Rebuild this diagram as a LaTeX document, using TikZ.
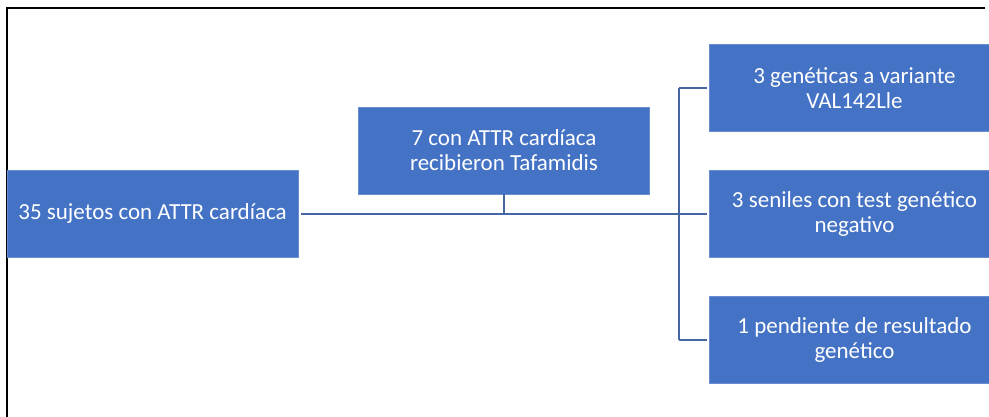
\documentclass[tikz,border=0pt]{standalone}
\usepackage{fontspec}
\setmainfont{Carlito}
\definecolor{boxblue}{HTML}{4472C4}
\definecolor{boxedge}{HTML}{6A8DD0}
\definecolor{linkblue}{HTML}{4565A3}
\begin{document}
\begin{tikzpicture}[x=1pt,y=-1pt,
  flowbox/.style={rectangle, fill=boxblue, draw=boxedge, line width=0.8pt,
    minimum width=291pt, minimum height=87pt, inner sep=0pt,
    text=white, align=center, font=\fontsize{23}{25}\selectfont},
  link/.style={draw=linkblue, line width=2pt}]
\useasboundingbox (0,0) rectangle (989,416);
\fill[white] (0,0) rectangle (989,416);
% frame
\draw[black, line width=2pt] (985,8) -- (7,8) -- (7,417);
% nodes
\node[flowbox] (L) at (152.5,213.5) {35 sujetos con ATTR cardíaca};
\node[flowbox] (M) at (504,150.5) {7 con ATTR cardíaca\\recibieron Tafamidis};
\node[flowbox] (R1) at (854.5,88) {3 genéticas a variante\\VAL142Lle};
\node[flowbox] (R2) at (854.5,213.5) {3 seniles con test genético\\negativo};
\node[flowbox] (R3) at (854.5,339.5) {1 pendiente de resultado\\genético};
% connectors
\draw[link, shorten <=3pt, shorten >=2pt] (L.east) -- (R2.west);
\draw[link] (M.south) -- (M.south |- L.east);
\coordinate (bx) at (679,0);
\draw[link, shorten >=2pt] (bx |- R1.west) -- (R1.west);
\draw[link, shorten >=2pt] (bx |- R3.west) -- (R3.west);
\draw[link] (bx |- R1.west) -- (bx |- R3.west);
\end{tikzpicture}
\end{document}
